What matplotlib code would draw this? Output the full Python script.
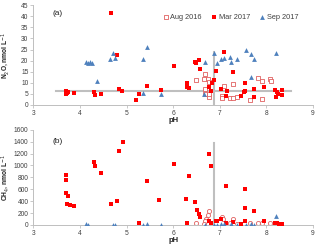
import matplotlib.pyplot as plt

plt.rcParams['font.family'] = ['Liberation Sans', 'DejaVu Sans']

# (a) N2O, nmol/L
aug_ph_a = [6.69, 6.50, 6.66, 6.75, 6.77, 6.69, 6.69, 6.77, 6.78, 7.10, 7.28, 7.05, 7.05,
            7.21, 7.28, 7.37, 7.64, 7.83, 7.91, 8.07, 8.10, 7.91]
aug_n2o = [14.0, 11.3, 11.7, 11.8, 10.4, 7.4, 4.8, 3.4, 4.8, 8.7, 9.6, 3.8, 3.2,
           2.9, 3.3, 3.4, 2.3, 12.2, 10.7, 11.8, 10.8, 2.6]

mar_ph_a = [4.66, 4.79, 3.70, 3.70, 3.72, 3.75, 3.87, 4.31, 4.33, 4.46, 4.83, 4.91, 5.20,
            5.27, 5.44, 5.73, 6.02, 6.46, 6.50, 6.56, 6.58, 7.10, 6.93, 7.29, 6.30, 6.29,
            6.34, 6.88, 6.84, 6.78, 6.81, 7.03, 7.15, 7.14, 7.55, 7.55, 7.53, 7.46, 7.74,
            7.74, 7.96, 8.18, 8.22, 8.25, 8.21, 8.34, 8.33]
mar_n2o = [41.3, 22.5, 6.3, 4.8, 5.2, 5.8, 5.5, 5.6, 4.5, 5.0, 7.3, 6.3, 2.4,
           4.8, 8.7, 6.8, 17.4, 19.4, 18.9, 20.1, 16.4, 24.0, 15.3, 14.7, 9.9, 8.3,
           7.7, 11.3, 9.8, 8.0, 6.5, 7.4, 6.5, 4.2, 9.9, 6.5, 5.7, 3.8, 7.4,
           3.4, 8.3, 6.8, 5.7, 4.8, 3.6, 6.8, 4.5]

sep_ph_a = [4.13, 4.18, 4.22, 4.25, 4.36, 4.64, 4.71, 4.76, 5.36, 5.44, 5.36, 5.75, 6.88,
            6.68, 6.94, 7.03, 7.10, 7.23, 7.24, 7.38, 7.57, 7.68, 7.73, 8.20, 7.68, 6.66]
sep_n2o = [19.5, 19.0, 19.5, 19.0, 10.6, 20.5, 23.6, 21.0, 20.5, 26.3, 5.2, 4.8, 23.6,
           19.4, 18.8, 20.7, 21.3, 21.5, 19.4, 20.9, 24.6, 22.8, 20.6, 23.6, 12.5, 4.8]

# (b) CH4, nmol/L
aug_ph_b = [6.78, 6.75, 6.71, 6.68, 6.66, 6.50, 7.05, 7.06, 7.28, 7.21, 7.64, 7.83, 7.91,
            8.07, 6.75, 7.37]
aug_ch4 = [230, 173, 100, 62, 17, 28, 140, 95, 100, 28, 39, 28, 28,
           28, 17, 17]

mar_ph_b = [3.70, 3.70, 3.71, 3.75, 3.73, 3.78, 3.87, 4.31, 4.33, 4.46, 4.66, 4.79, 4.84,
            4.92, 5.27, 5.44, 5.70, 6.02, 6.34, 6.78, 6.82, 7.14, 7.55, 6.28, 6.46, 6.52,
            6.56, 6.58, 7.54, 7.74, 6.30, 7.03, 6.91, 6.94, 7.14, 7.28, 7.46, 7.55, 7.96,
            8.18, 8.22, 8.27, 8.34, 6.81, 6.78]
mar_ch4 = [839, 760, 537, 492, 347, 330, 322, 1062, 995, 878, 352, 403, 1242,
           1388, 28, 733, 425, 1023, 822, 1186, 990, 654, 609, 441, 386, 252,
           185, 140, 285, 230, 39, 106, 62, 73, 28, 45, 17, 73, 62,
           39, 28, 17, 11, 34, 62]

sep_ph_b = [4.13, 4.18, 4.71, 4.76, 5.36, 5.44, 5.75, 6.68, 6.88, 6.94, 7.03, 7.10, 7.24,
            7.38, 7.57, 7.68, 7.73, 8.20]
sep_ch4 = [10, 0, 5, 5, 5, 10, 0, 0, 0, 0, 10, 15, 15,
           0, 0, 10, 0, 151]

# grey guide lines
hline_a = (6.2, 3.48, 8.53)
vline_ph = 6.88
vtop_a = 24.0
vtop_b = 1370

red = '#FF0000'
blue = '#4F81BD'
grey = '#BFBFBF'
txt = '#404040'

fig = plt.figure(figsize=(3.2, 2.48), dpi=100)
ax1 = fig.add_axes([0.104, 0.577, 0.874, 0.402])
ax2 = fig.add_axes([0.104, 0.093, 0.874, 0.384])

def style(ax):
    for s in ['top', 'right']:
        ax.spines[s].set_visible(False)
    for s in ['left', 'bottom']:
        ax.spines[s].set_color('#BFBFBF')
        ax.spines[s].set_linewidth(0.7)
    ax.tick_params(labelsize=4.8, colors='#BFBFBF', labelcolor=txt, length=2, width=0.6, pad=1.5)
    ax.set_xlim(3, 9)
    ax.set_xticks(range(3, 10))
    ax.set_xlabel('pH', fontsize=5.5, fontweight='bold', labelpad=0, color='#202020')

# panel a
ax1.plot([hline_a[1], hline_a[2]], [hline_a[0], hline_a[0]], color=grey, lw=1.5, zorder=1)
ax1.plot([vline_ph, vline_ph], [0, vtop_a], color=grey, lw=1.5, zorder=1)
ax1.scatter(aug_ph_a, aug_n2o, marker='s', s=8, facecolors='white', edgecolors='#E06060',
            linewidths=0.6, label='Aug 2016', zorder=2)
ax1.scatter(mar_ph_a, mar_n2o, marker='s', s=11, color=red, linewidths=0, label='Mar 2017', zorder=3)
ax1.scatter(sep_ph_a, sep_n2o, marker='^', s=12, color=blue, linewidths=0, label='Sep 2017', zorder=3)
ax1.set_ylim(0, 45)
ax1.set_yticks(range(0, 46, 5))
style(ax1)
ax1.set_ylabel('N$_2$O, nmol L$^{-1}$', fontsize=4.8, fontweight='bold', color='#202020')
ax1.yaxis.set_label_coords(-0.078, 0.5)
ax1.text(0.07, 0.9, '(a)', transform=ax1.transAxes, fontsize=6, color='#202020')
ax1.legend(loc='upper left', bbox_to_anchor=(0.45, 0.94), ncol=3, fontsize=5.3, frameon=False,
           handletextpad=0.1, columnspacing=1.2, borderaxespad=0, handlelength=1.0,
           labelcolor=txt)

# panel b
ax2.plot([vline_ph, vline_ph], [0, vtop_b], color=grey, lw=1.5, zorder=1)
ax2.scatter(aug_ph_b, aug_ch4, marker='o', s=9, facecolors='white', edgecolors='#E06060',
            linewidths=0.6, zorder=2)
ax2.scatter(mar_ph_b, mar_ch4, marker='s', s=11, color=red, linewidths=0, zorder=3)
ax2.scatter(sep_ph_b, sep_ch4, marker='^', s=12, color=blue, linewidths=0, zorder=3)
ax2.set_ylim(0, 1600)
ax2.set_yticks(range(0, 1601, 200))
style(ax2)
ax2.set_ylabel('CH$_4$, nmol L$^{-1}$', fontsize=4.8, fontweight='bold', color='#202020')
ax2.yaxis.set_label_coords(-0.078, 0.5)
ax2.text(0.07, 0.86, '(b)', transform=ax2.transAxes, fontsize=6, color='#202020')

fig.savefig('out.png', dpi=100)
